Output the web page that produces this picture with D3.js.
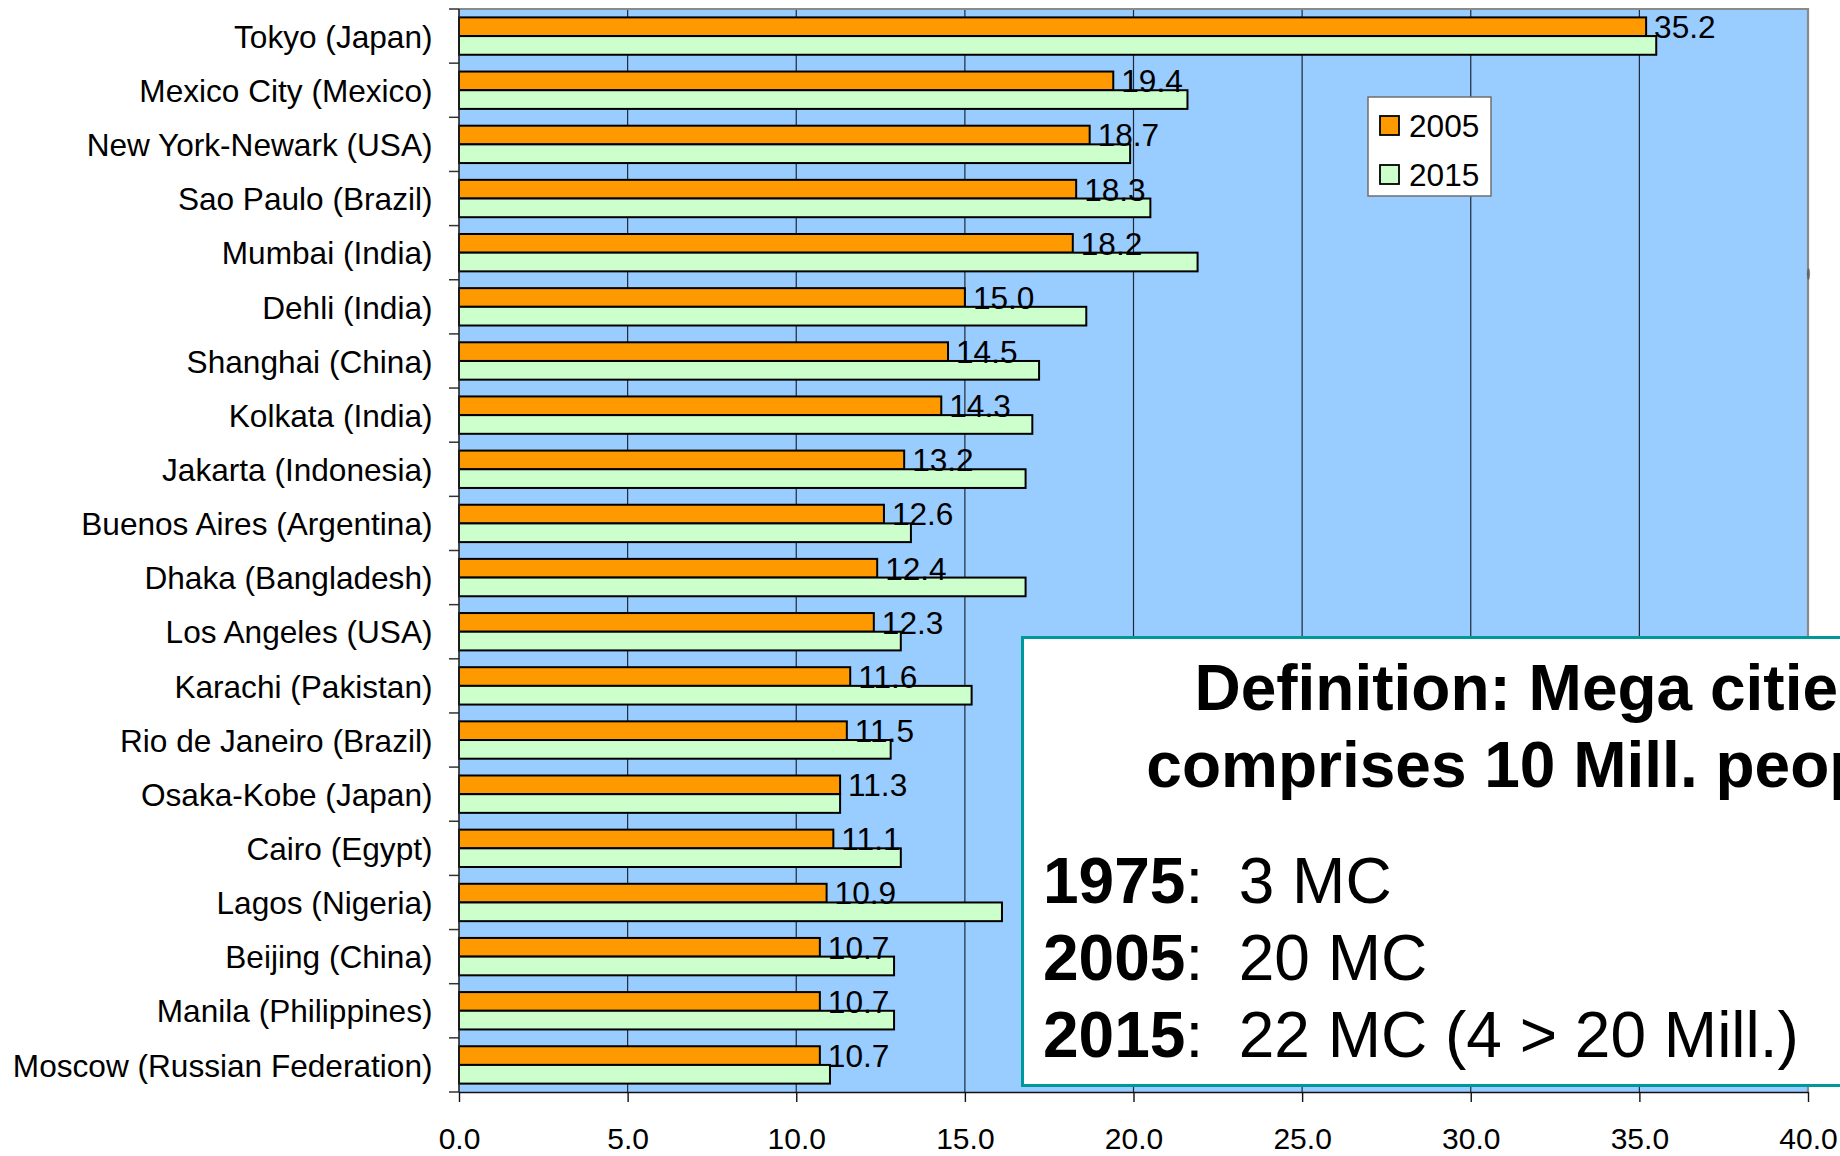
<!DOCTYPE html>
<html>
<head>
<meta charset="utf-8">
<script src="https://cdn.jsdelivr.net/npm/d3@7"></script>
<style>
  html, body { margin: 0; padding: 0; background: #fff; overflow: hidden; }
  svg { display: block; }
  text { font-family: "Liberation Sans", Arial, sans-serif; fill: #000; }
</style>
</head>
<body>
<svg id="chart" width="1840" height="1156"></svg>
<script>
// Largest urban agglomerations, population in millions
const cities = [
  "Tokyo (Japan)", "Mexico City (Mexico)", "New York-Newark (USA)", "Sao Paulo (Brazil)",
  "Mumbai (India)", "Dehli (India)", "Shanghai (China)", "Kolkata (India)",
  "Jakarta (Indonesia)", "Buenos Aires (Argentina)", "Dhaka (Bangladesh)", "Los Angeles (USA)",
  "Karachi (Pakistan)", "Rio de Janeiro (Brazil)", "Osaka-Kobe (Japan)", "Cairo (Egypt)",
  "Lagos (Nigeria)", "Beijing (China)", "Manila (Philippines)", "Moscow (Russian Federation)"
];
const pop2005 = [35.2, 19.4, 18.7, 18.3, 18.2, 15.0, 14.5, 14.3, 13.2, 12.6,
                 12.4, 12.3, 11.6, 11.5, 11.3, 11.1, 10.9, 10.7, 10.7, 10.7];
const pop2015 = [35.5, 21.6, 19.9, 20.5, 21.9, 18.6, 17.2, 17.0, 16.8, 13.4,
                 16.8, 13.1, 15.2, 12.8, 11.3, 13.1, 16.1, 12.9, 12.9, 11.0];
const seriesNames = ["2005", "2015"];
const xTicks = [0, 5, 10, 15, 20, 25, 30, 35, 40];

const noteTitle = ["Definition: Mega cities", "comprises 10 Mill. people"];
const noteYears = ["1975", "2005", "2015"];
const noteCounts = ["3 MC", "20 MC", "22 MC (4 > 20 Mill.)"];

const svg = d3.select("#chart");
const plot = { left: 459, right: 1808, top: 9, bottom: 1092 };
const labelSize = 31.6;

const x = d3.scaleLinear().domain([0, 40]).range([plot.left, plot.right]);
const y = d3.scaleBand().domain(cities).range([plot.top, plot.bottom]);
const bw = y.bandwidth();
const ySeries = d3.scaleBand().domain(seriesNames).range([bw * 0.155, bw * 0.845]);
const color = d3.scaleOrdinal().domain(seriesNames).range(["#FF9900", "#CCFFCC"]);

const rows = cities.map((c, i) => ({ city: c, values: [
  { series: "2005", value: pop2005[i] },
  { series: "2015", value: pop2015[i] }
]}));

// plot background
svg.append("rect")
  .attr("x", plot.left).attr("y", plot.top)
  .attr("width", plot.right - plot.left).attr("height", plot.bottom - plot.top)
  .attr("fill", "#99CCFF");

// vertical gridlines
svg.append("g").selectAll("line")
  .data(xTicks.filter(t => t > 0 && t < 40))
  .join("line")
  .attr("x1", d => x(d)).attr("x2", d => x(d))
  .attr("y1", plot.top).attr("y2", plot.bottom)
  .attr("stroke", "#1f2a38").attr("stroke-width", 1.2);

// plot frame (top / right)
svg.append("path")
  .attr("d", `M${plot.left},${plot.top}H${plot.right}V${plot.bottom}`)
  .attr("fill", "none").attr("stroke", "#8a8a8a").attr("stroke-width", 2.2);
svg.append("ellipse")
  .attr("cx", plot.right + 0.5).attr("cy", 274).attr("rx", 1.6).attr("ry", 6)
  .attr("fill", "#555").attr("opacity", 0.7);

// bars
const groups = svg.append("g").selectAll("g")
  .data(rows).join("g")
  .attr("transform", d => `translate(0,${y(d.city)})`);

groups.selectAll("rect")
  .data(d => d.values).join("rect")
  .attr("x", x(0))
  .attr("y", d => ySeries(d.series))
  .attr("width", d => x(d.value) - x(0))
  .attr("height", ySeries.bandwidth())
  .attr("fill", d => color(d.series))
  .attr("stroke", "#000").attr("stroke-width", 2);

// 2005 value labels
groups.append("text")
  .attr("x", (d, i) => x(pop2005[i]) + 8)
  .attr("y", ySeries("2005") + ySeries.bandwidth() + 2)
  .attr("font-size", labelSize)
  .text((d, i) => d3.format(".1f")(pop2005[i]));

// category axis
const yAxis = svg.append("g")
  .attr("transform", `translate(${plot.left},0)`)
  .call(d3.axisLeft(y).tickSize(0).tickPadding(26.5));
yAxis.select(".domain").remove();
yAxis.selectAll("text")
  .attr("font-size", labelSize).attr("dy", "0.37em")
  .style("font-family", '"Liberation Sans", Arial, sans-serif');

svg.append("g").selectAll("line")
  .data(cities.map(c => y(c)).concat([plot.bottom]))
  .join("line")
  .attr("x1", plot.left - 10).attr("x2", plot.left)
  .attr("y1", d => d).attr("y2", d => d)
  .attr("stroke", "#333").attr("stroke-width", 1.5);
svg.append("line")
  .attr("x1", plot.left).attr("x2", plot.left)
  .attr("y1", plot.top).attr("y2", plot.bottom)
  .attr("stroke", "#222").attr("stroke-width", 1.6);

// value axis
const xAxis = svg.append("g")
  .attr("transform", `translate(0,${plot.bottom})`)
  .call(d3.axisBottom(x).tickValues(xTicks).tickSize(10).tickSizeOuter(0)
        .tickPadding(26).tickFormat(d3.format(".1f")));
xAxis.select(".domain").attr("stroke", "#111").attr("stroke-width", 1.6);
xAxis.selectAll(".tick line").attr("stroke", "#111").attr("stroke-width", 1.4);
xAxis.selectAll("text")
  .attr("font-size", 30)
  .style("font-family", '"Liberation Sans", Arial, sans-serif');

// legend
const legend = svg.append("g").attr("transform", "translate(1368,97)");
legend.append("rect")
  .attr("width", 123).attr("height", 99)
  .attr("fill", "#fff").attr("stroke", "#6f6f6f").attr("stroke-width", 1.5);
const li = legend.selectAll("g.item")
  .data(seriesNames).join("g").attr("class", "item")
  .attr("transform", (d, i) => `translate(12,${19 + i * 49})`);
li.append("rect")
  .attr("width", 19).attr("height", 19)
  .attr("fill", d => color(d)).attr("stroke", "#000").attr("stroke-width", 1.8);
li.append("text")
  .attr("x", 29).attr("y", 21)
  .attr("font-size", labelSize)
  .text(d => d);

// definition note
const note = svg.append("g");
note.append("rect")
  .attr("x", 1022.5).attr("y", 637.5)
  .attr("width", 900).attr("height", 448)
  .attr("fill", "#fff").attr("stroke", "#009999").attr("stroke-width", 3);
note.selectAll("text.title")
  .data(noteTitle).join("text").attr("class", "title")
  .attr("x", 1534).attr("y", (d, i) => 710 + i * 77)
  .attr("text-anchor", "middle")
  .attr("font-size", 64).attr("font-weight", "bold")
  .text(d => d);
const lines = note.selectAll("text.count")
  .data(noteYears).join("text").attr("class", "count")
  .attr("x", 1043).attr("y", (d, i) => 903 + i * 77)
  .attr("font-size", 64)
  .style("white-space", "pre");
lines.append("tspan").attr("font-weight", "bold").text(d => d);
lines.append("tspan").text((d, i) => ":  " + noteCounts[i]);
</script>
</body>
</html>
